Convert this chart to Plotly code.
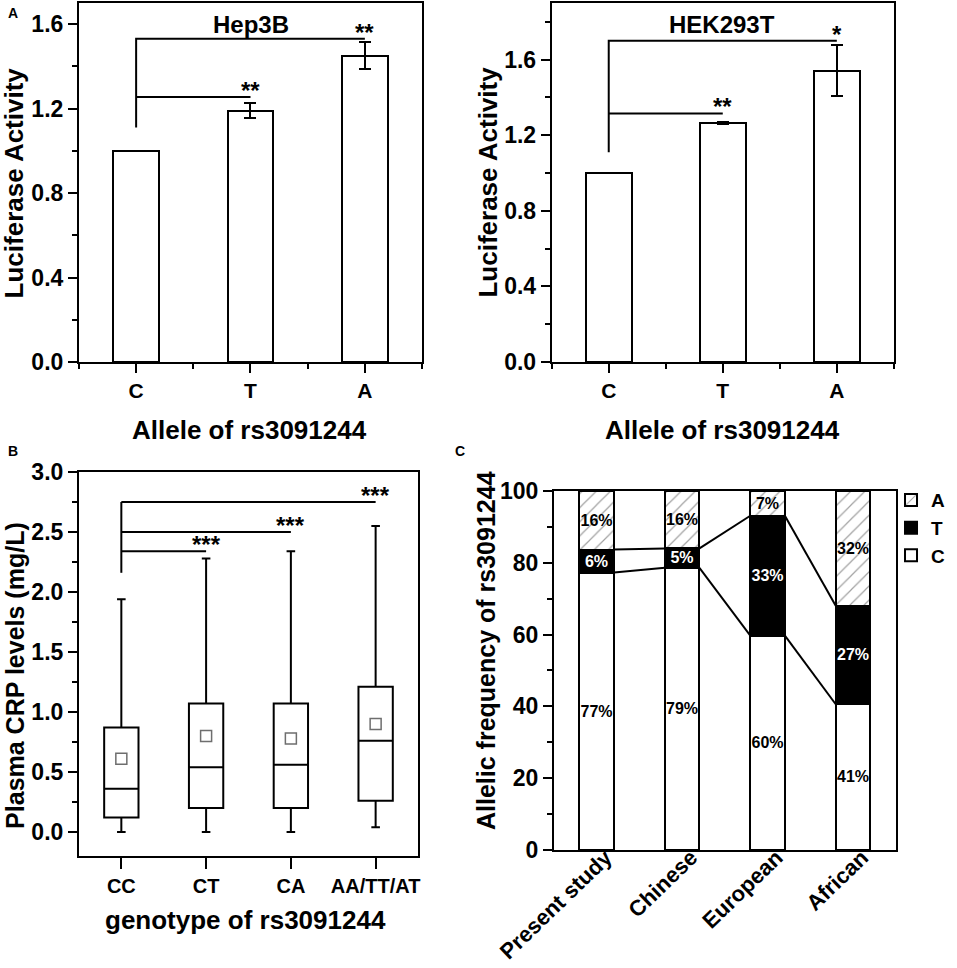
import plotly.graph_objects as go

FONT = "Liberation Sans"

# ---- panel A: luciferase activity ----
alleles = ["C", "T", "A"]
hep3b_mean = [1.0, 1.19, 1.45]
hep3b_err = [0, 0.037, 0.063]
hek_mean = [1.0, 1.265, 1.54]
hek_err = [0, 0.006, 0.135]
# bracket levels: leg start at C, bar to T, bar to A
hep3b_brackets = [1.11, 1.255, 1.53]
hek_brackets = [1.11, 1.315, 1.70]
hep3b_stars = ["**", "**"]
hek_stars = ["**", "*"]

# ---- panel B: CRP box plot ----
genotypes = ["CC", "CT", "CA", "AA/TT/AT"]
crp_min = [0.0, 0.0, 0.0, 0.04]
crp_q1 = [0.12, 0.20, 0.20, 0.26]
crp_median = [0.36, 0.54, 0.56, 0.76]
crp_q3 = [0.87, 1.07, 1.07, 1.21]
crp_max = [1.94, 2.28, 2.34, 2.55]
crp_mean = [0.61, 0.80, 0.78, 0.90]
crp_brackets = [2.16, 2.34, 2.50, 2.75]  # leg start, then bars to CT, CA, AA/TT/AT
crp_stars = ["***", "***", "***"]

# ---- panel C: allele frequencies ----
populations = ["Present study", "Chinese", "European", "African"]
freq_c = [77.3, 78.6, 59.7, 40.6]
freq_t = [6.4, 5.4, 33.4, 27.4]
freq_a = [16.3, 16.0, 6.9, 32.0]

bar_w = 0.4
box_w = 0.405

fig = go.Figure()

# panel A bars
for mean, err, ax in [(hep3b_mean, hep3b_err, ""), (hek_mean, hek_err, "2")]:
    fig.add_trace(go.Bar(
        x=list(range(len(alleles))), y=mean, width=bar_w,
        marker=dict(color="white", line=dict(color="black", width=2)),
        error_y=dict(type="data", array=err, color="black", thickness=2, width=6),
        xaxis="x" + ax, yaxis="y" + ax, showlegend=False))

# significance brackets for panel A
for br, stars, ax in [(hep3b_brackets, hep3b_stars, ""), (hek_brackets, hek_stars, "2")]:
    fig.add_trace(go.Scatter(
        x=[0, 0, 2, None, 0, 1], y=[br[0], br[2], br[2], None, br[1], br[1]],
        mode="lines", line=dict(color="black", width=2),
        xaxis="x" + ax, yaxis="y" + ax, showlegend=False, hoverinfo="skip"))
    for i, s in enumerate(stars):
        fig.add_annotation(x=i + 1, y=br[i + 1], text=s, showarrow=False,
                           xref="x" + ax, yref="y" + ax, yanchor="bottom", yshift=-9,
                           font=dict(size=24, color="black"))

# panel B boxes
fig.add_trace(go.Box(
    x=list(range(len(genotypes))), q1=crp_q1, median=crp_median, q3=crp_q3,
    lowerfence=crp_min, upperfence=crp_max, width=box_w, whiskerwidth=0.25,
    fillcolor="white", line=dict(color="black", width=2), boxpoints=False,
    xaxis="x3", yaxis="y3", showlegend=False))
fig.add_trace(go.Scatter(
    x=list(range(len(genotypes))), y=crp_mean, mode="markers",
    marker=dict(symbol="square-open", size=11, color="#6e6e6e", line=dict(width=1.5)),
    xaxis="x3", yaxis="y3", showlegend=False))

bx, by = [], []
for i in range(1, len(genotypes)):
    bx += [0, i, None]
    by += [crp_brackets[i], crp_brackets[i], None]
bx += [0, 0]
by += [crp_brackets[0], crp_brackets[-1]]
fig.add_trace(go.Scatter(x=bx, y=by, mode="lines", line=dict(color="black", width=2),
                         xaxis="x3", yaxis="y3", showlegend=False, hoverinfo="skip"))
for i, s in enumerate(crp_stars):
    fig.add_annotation(x=i + 1, y=crp_brackets[i + 1], text=s, showarrow=False,
                       xref="x3", yref="y3", yanchor="bottom", yshift=-9,
                       font=dict(size=24, color="black"))

# panel C stacked bars
xs = list(range(len(populations)))
common = dict(x=xs, width=box_w, xaxis="x4", yaxis="y4", textposition="inside",
              insidetextanchor="middle", texttemplate="%{y:.0f}%", constraintext="none",
              textangle=0)
fig.add_trace(go.Bar(y=freq_c, name="C", **common,
                     marker=dict(color="white", line=dict(color="black", width=2)),
                     textfont=dict(size=16, color="black")))
fig.add_trace(go.Bar(y=freq_t, name="T", **common,
                     marker=dict(color="black", line=dict(color="black", width=2)),
                     textfont=dict(size=16, color="white")))
fig.add_trace(go.Bar(y=freq_a, name="A", **common,
                     marker=dict(color="white", line=dict(color="black", width=2),
                                 pattern=dict(shape="/", fgcolor="#444444", bgcolor="white",
                                              size=10, solidity=0.12)),
                     textfont=dict(size=16, color="black")))

lx, ly = [], []
for i in range(len(populations) - 1):
    lo1, lo2 = freq_c[i], freq_c[i + 1]
    hi1, hi2 = freq_c[i] + freq_t[i], freq_c[i + 1] + freq_t[i + 1]
    lx += [i + box_w / 2, i + 1 - box_w / 2, None, i + box_w / 2, i + 1 - box_w / 2, None]
    ly += [lo1, lo2, None, hi1, hi2, None]
fig.add_trace(go.Scatter(x=lx, y=ly, mode="lines", line=dict(color="black", width=2),
                         xaxis="x4", yaxis="y4", showlegend=False, hoverinfo="skip"))

axis = dict(showline=True, linecolor="black", linewidth=2, mirror=True, showgrid=False,
            zeroline=False, ticks="outside", tickcolor="black", tickwidth=2, ticklen=9,
            automargin=False, tickfont=dict(size=23, color="black"))
minor_y = lambda d: dict(dtick=d, ticks="outside", ticklen=5, tickcolor="black", tickwidth=2)
minor_x = dict(tickmode="array", tickvals=[-0.5, 0.5, 1.5, 2.5], ticks="outside",
               ticklen=5, tickcolor="black", tickwidth=2)

fig.update_layout(
    width=957, height=968, margin=dict(l=0, r=0, t=0, b=0, autoexpand=False),
    paper_bgcolor="white", plot_bgcolor="white",
    font=dict(family=FONT, weight="bold", color="black"),
    barmode="stack", bargap=0,
    xaxis=dict(axis, domain=[0.0825, 0.441], anchor="y", range=[-0.5, 2.5],
               tickvals=[0, 1, 2], ticktext=alleles, tickfont=dict(size=21), minor=minor_x),
    yaxis=dict(axis, domain=[0.626, 0.997], anchor="x", range=[0, 1.7],
               tick0=0, dtick=0.4, tickformat=".1f", minor=minor_y(0.2)),
    xaxis2=dict(axis, domain=[0.5765, 0.934], anchor="y2", range=[-0.5, 2.5],
                tickvals=[0, 1, 2], ticktext=alleles, tickfont=dict(size=21), minor=minor_x),
    yaxis2=dict(axis, domain=[0.626, 0.997], anchor="x2", range=[0, 1.9],
                tick0=0, dtick=0.4, tickformat=".1f", minor=minor_y(0.2)),
    xaxis3=dict(axis, domain=[0.0825, 0.4368], anchor="y3", range=[-0.5, 3.5],
                tickvals=[0, 1, 2, 3], ticktext=genotypes, tickfont=dict(size=20), ticklen=11),
    yaxis3=dict(axis, domain=[0.1157, 0.5124], anchor="x3", range=[-0.2, 3.0],
                tick0=0, dtick=0.5, tickformat=".1f", minor=minor_y(0.25)),
    xaxis4=dict(axis, domain=[0.5789, 0.936], anchor="y4", range=[-0.5, 3.5],
                tickvals=[0, 1, 2, 3], ticktext=populations, ticks="",
                tickangle=-44, tickfont=dict(size=22), ticklabelstandoff=-16,
                ticklabelshift=9),
    yaxis4=dict(axis, domain=[0.1219, 0.4928], anchor="x4", range=[0, 100],
                tick0=0, dtick=20, minor=minor_y(10)),
    legend=dict(x=0.9927, y=0.503, xanchor="right", yanchor="top", traceorder="reversed",
                font=dict(size=19), bgcolor="rgba(0,0,0,0)", tracegroupgap=0,
                itemwidth=30),
)

# axis titles, subplot titles and panel letters
texts = [
    ("Allele of rs3091244", 0.2607, 0.5558, 0, 26),
    ("Allele of rs3091244", 0.7553, 0.5558, 0, 26),
    ("Luciferase Activity", 0.0146, 0.8115, -90, 26),
    ("Luciferase Activity", 0.5100, 0.8115, -90, 26),
    ("Hep3B", 0.2621, 0.9742, 0, 24),
    ("HEK293T", 0.7541, 0.9750, 0, 24),
    ("genotype of rs3091244", 0.2569, 0.0496, 0, 26),
    ("Plasma CRP levels (mg/L)", 0.0157, 0.3018, -90, 25),
    ("Allelic frequency of rs3091244", 0.5078, 0.3285, -90, 25),
    ("A", 0.0136, 0.9866, 0, 14),
    ("B", 0.0136, 0.5341, 0, 14),
    ("C", 0.4807, 0.5341, 0, 14),
]
for t, x, y, ang, size in texts:
    fig.add_annotation(text=t, x=x, y=y, xref="paper", yref="paper", showarrow=False,
                       textangle=ang, xanchor="center", yanchor="middle",
                       font=dict(size=size, color="black"))

# drop the page's default body margin so the figure sits at the window's corner
fig.write_html("out.html", config={"displayModeBar": False},
               post_script="document.body.style.margin = '0';")
